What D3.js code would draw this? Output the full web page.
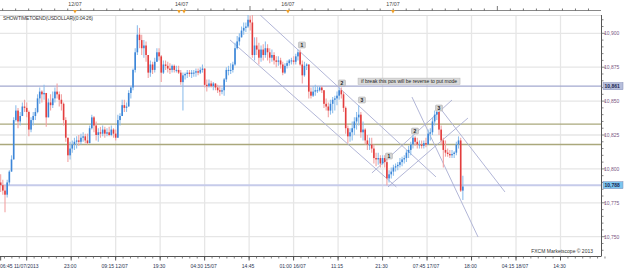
<!DOCTYPE html>
<html>
<head>
<meta charset="utf-8">
<script src="https://cdn.jsdelivr.net/npm/d3@7"></script>
<style>
body { margin: 0; background: #fff; }
text { font-family: Arial, "Liberation Sans", sans-serif; }
</style>
</head>
<body>
<script>
var w = 625,
    h = 272;

var plotL = 0, plotR = 601, plotT = 15, plotB = 256;

// 30 minute candles, first one sits on slot -24 (06:45 11/07)
var firstSlot = -24,
    slotStep = 2,
    firstOpen = 10790;

var highs = [
  10796, 10792, 10788, 10792, 10799, 10810, 10838, 10847, 10845, 10842,
  10849, 10851, 10849, 10843, 10838, 10842, 10845, 10855, 10860, 10858,
  10862, 10855, 10852, 10855, 10857, 10860, 10863, 10857, 10855, 10849,
  10838, 10823, 10820, 10821, 10823, 10824, 10825, 10826, 10827, 10826,
  10826, 10832, 10840, 10839, 10835, 10830, 10831, 10832, 10831, 10830,
  10831, 10832, 10830, 10829, 10840, 10841, 10851, 10851, 10849, 10858,
  10861, 10874, 10889, 10906, 10904, 10899, 10895, 10894, 10884, 10880,
  10879, 10882, 10889, 10889, 10884, 10880, 10880, 10879, 10878, 10877,
  10877, 10876, 10876, 10873, 10871, 10871, 10873, 10873, 10873, 10873,
  10874, 10874, 10875, 10877, 10874, 10866, 10866, 10865, 10864, 10863,
  10862, 10861, 10860, 10867, 10875, 10876, 10878, 10879, 10893, 10898,
  10900, 10905, 10908, 10908, 10914, 10913, 10914, 10897, 10897, 10893,
  10891, 10892, 10894, 10892, 10889, 10888, 10886, 10883, 10883, 10882,
  10879, 10878, 10880, 10881, 10882, 10883, 10885, 10888, 10888, 10880,
  10879, 10878, 10877, 10860, 10861, 10862, 10861, 10861, 10861, 10858,
  10852, 10849, 10851, 10853, 10854, 10857, 10860, 10860, 10857, 10846,
  10832, 10830, 10835, 10838, 10842, 10847, 10842, 10835, 10830, 10825,
  10823, 10823, 10818, 10812, 10812, 10810, 10810, 10810, 10808, 10799,
  10801, 10803, 10804, 10805, 10808, 10809, 10810, 10814, 10817, 10820,
  10825, 10824, 10823, 10821, 10821, 10821, 10823, 10829, 10830, 10838,
  10843, 10845, 10842, 10832, 10823, 10821, 10815, 10814, 10814, 10813,
  10820, 10824, 10823, 10795
];

var lows = [
  10783, 10781, 10768, 10779, 10788, 10798, 10807, 10835, 10830, 10832,
  10839, 10842, 10838, 10824, 10827, 10832, 10836, 10841, 10848, 10849,
  10851, 10831, 10838, 10843, 10845, 10849, 10852, 10846, 10843, 10832,
  10820, 10805, 10807, 10812, 10814, 10815, 10817, 10818, 10820, 10819,
  10818, 10819, 10829, 10827, 10821, 10820, 10823, 10824, 10823, 10824,
  10824, 10824, 10823, 10821, 10823, 10832, 10839, 10842, 10842, 10846,
  10852, 10858, 10871, 10884, 10889, 10884, 10882, 10879, 10867, 10868,
  10870, 10871, 10879, 10880, 10864, 10870, 10873, 10871, 10870, 10871,
  10871, 10871, 10870, 10862, 10843, 10866, 10867, 10868, 10867, 10868,
  10868, 10869, 10870, 10871, 10860, 10857, 10860, 10860, 10858, 10858,
  10856, 10854, 10855, 10854, 10864, 10869, 10870, 10871, 10876, 10888,
  10891, 10897, 10899, 10901, 10904, 10902, 10882, 10880, 10884, 10877,
  10879, 10880, 10882, 10880, 10878, 10879, 10877, 10875, 10876, 10874,
  10869, 10870, 10874, 10876, 10877, 10877, 10877, 10880, 10876, 10863,
  10868, 10873, 10852, 10852, 10853, 10854, 10856, 10857, 10856, 10845,
  10843, 10838, 10840, 10841, 10843, 10847, 10851, 10852, 10842, 10826,
  10819, 10820, 10821, 10825, 10829, 10832, 10823, 10821, 10818, 10814,
  10814, 10812, 10804, 10802, 10803, 10801, 10803, 10801, 10788, 10790,
  10793, 10795, 10798, 10799, 10801, 10802, 10804, 10805, 10808, 10810,
  10815, 10817, 10815, 10815, 10815, 10815, 10816, 10818, 10821, 10825,
  10832, 10836, 10825, 10818, 10801, 10809, 10809, 10808, 10808, 10808,
  10810, 10815, 10783, 10777
];

var closes = [
  10788, 10784, 10781, 10790, 10798, 10807, 10836, 10843, 10835, 10839,
  10846, 10845, 10842, 10829, 10836, 10839, 10842, 10852, 10857, 10855,
  10856, 10838, 10849, 10847, 10852, 10857, 10855, 10851, 10848, 10836,
  10823, 10810, 10815, 10818, 10820, 10821, 10820, 10823, 10824, 10821,
  10819, 10830, 10838, 10832, 10825, 10827, 10826, 10829, 10826, 10827,
  10825, 10829, 10826, 10823, 10836, 10839, 10847, 10845, 10846, 10856,
  10860, 10873, 10886, 10899, 10895, 10889, 10891, 10884, 10871, 10877,
  10873, 10879, 10886, 10883, 10871, 10877, 10876, 10874, 10873, 10876,
  10873, 10873, 10871, 10864, 10869, 10870, 10871, 10870, 10871, 10871,
  10872, 10871, 10873, 10874, 10862, 10861, 10863, 10861, 10863, 10860,
  10858, 10857, 10858, 10866, 10873, 10873, 10873, 10877, 10889, 10894,
  10897, 10902, 10904, 10905, 10910, 10908, 10884, 10891, 10888, 10882,
  10888, 10884, 10889, 10886, 10882, 10884, 10880, 10879, 10880, 10877,
  10871, 10876, 10878, 10880, 10880, 10879, 10883, 10886, 10877, 10869,
  10876, 10877, 10857, 10854, 10857, 10858, 10858, 10860, 10858, 10848,
  10846, 10843, 10848, 10851, 10852, 10854, 10858, 10855, 10845, 10830,
  10824, 10827, 10830, 10835, 10838, 10840, 10827, 10829, 10821, 10818,
  10818, 10815, 10808, 10807, 10808, 10804, 10808, 10805, 10793, 10796,
  10798, 10801, 10802, 10803, 10805, 10807, 10808, 10812, 10814, 10818,
  10823, 10820, 10818, 10818, 10817, 10819, 10818, 10826, 10827, 10835,
  10840, 10842, 10829, 10821, 10814, 10812, 10811, 10810, 10811, 10812,
  10818, 10821, 10784, 10787
];

// bottom time axis (slot = 15 min)
var timeTicks = [-24, 0, 41, 82, 123, 164, 205, 246, 287, 328, 369, 410, 451, 492];
var timeLabels = ['06:45 11/07/2013', '', '23:00', '09:15 12/07', '19:30', '04:30 15/07', '14:45',
                  '01:00 16/07', '11:15', '21:30', '07:45 17/07', '18:00', '04:15 18/07', '14:30'];

// top day markers
var daySlots = [44.5, 142.7, 240.8, 337.6];
var dayLabels = ['12/07', '14/07', '16/07', '17/07'];
var markerSlots = [44.5, 140.4, 145, 240.8, 337.6];
var topTickSlots = d3.range(-19, 27).map(function(k){ return 205.8 + k * 12; });

// price axis
var priceTicks = [10750, 10775, 10800, 10825, 10850, 10875, 10900];

// horizontal levels
var levelPrices = [10861, 10833, 10818, 10788];
var levelColors = ['#a3a9cf', '#aaa87c', '#aaa87c', '#c6cbea'];
var levelWidths = [1.2, 1.3, 1.3, 2];
var tagPrices = [10861, 10788];
var tagFills = ['#b7bedb', '#7cc6f0'];

// wave counts
var waveText = ['1', '2', '3', '1', '2', '3'];
var waveSlots = [253.7, 290.6, 309.0, 333.9, 357.9, 380.0];
var wavePrices = [10891.4, 10863.4, 10850.8, 10809.5, 10827.9, 10844.9];

// trend / channel lines [slot1, price1, slot2, price2]
var trendLines = [
  [215.2, 10913.5, 377.2, 10794.1],
  [187.4, 10895.1, 340.7, 10786.7],
  [318.2, 10797.0, 392.0, 10850.8],
  [333.0, 10786.7, 406.7, 10837.5],
  [355.1, 10853.0, 416.0, 10749.8],
  [380.9, 10844.9, 440.8, 10783.0]
];

var noteText = 'if break this pos will be reverse to put mode';
var noteSlot = 352.4, notePrice = 10864.6;

var x = d3.scaleLinear().domain([0, 492]).range([26.7, 560.5]);
var y = d3.scaleLinear().domain([10750, 10900]).range([236.7, 33.3]);

var svg = d3.select('body')
    .append('svg')
    .attr('width', w)
    .attr('height', h);

svg.append('defs').append('clipPath')
    .attr('id', 'plotclip')
    .append('rect')
    .attr('x', plotL).attr('y', plotT)
    .attr('width', plotR - plotL).attr('height', plotB - plotT);

// grid
svg.append('g').selectAll('line')
    .data(priceTicks)
    .enter().append('line')
    .attr('x1', plotL).attr('x2', plotR)
    .attr('y1', function(d){ return y(d); })
    .attr('y2', function(d){ return y(d); })
    .attr('stroke', '#e6e6e6')
    .attr('stroke-width', 1.3);

svg.append('g').selectAll('line')
    .data(timeTicks.slice(1))
    .enter().append('line')
    .attr('x1', function(d){ return x(d); })
    .attr('x2', function(d){ return x(d); })
    .attr('y1', plotT).attr('y2', plotB)
    .attr('stroke', '#e6e6e6')
    .attr('stroke-width', 1.3);

svg.append('line')
    .attr('x1', plotL).attr('x2', plotR)
    .attr('y1', plotT + 0.5).attr('y2', plotT + 0.5)
    .attr('stroke', '#dcdcdc');

var plot = svg.append('g').attr('clip-path', 'url(#plotclip)');

// levels
plot.selectAll('line.level')
    .data(levelPrices)
    .enter().append('line')
    .attr('class', 'level')
    .attr('x1', plotL).attr('x2', plotR)
    .attr('y1', function(d){ return y(d); })
    .attr('y2', function(d){ return y(d); })
    .attr('stroke', function(d, i){ return levelColors[i]; })
    .attr('stroke-width', function(d, i){ return levelWidths[i]; });

// channel lines
plot.selectAll('line.trend')
    .data(trendLines)
    .enter().append('line')
    .attr('class', 'trend')
    .attr('x1', function(d){ return x(d[0]); })
    .attr('y1', function(d){ return y(d[1]); })
    .attr('x2', function(d){ return x(d[2]); })
    .attr('y2', function(d){ return y(d[3]); })
    .attr('stroke', '#a9aed2')
    .attr('stroke-width', 0.9);

// candles
var candles = closes.map(function(c, i){
    var o = i == 0 ? firstOpen : closes[i - 1];
    return {slot: firstSlot + i * slotStep, o: o, c: c, hi: highs[i], lo: lows[i]};
});

var cg = plot.selectAll('g.candle')
    .data(candles)
    .enter().append('g')
    .attr('class', 'candle');

cg.append('line')
    .attr('x1', function(d){ return x(d.slot); })
    .attr('x2', function(d){ return x(d.slot); })
    .attr('y1', function(d){ return y(Math.max(d.hi, d.o, d.c)); })
    .attr('y2', function(d){ return y(Math.min(d.lo, d.o, d.c)); })
    .attr('stroke', function(d){ return d.c >= d.o ? '#8fbfec' : '#f2a3a3'; })
    .attr('stroke-width', 1.1);

cg.append('rect')
    .attr('x', function(d){ return x(d.slot) - 0.8; })
    .attr('width', 1.6)
    .attr('y', function(d){ return y(Math.max(d.o, d.c)); })
    .attr('height', function(d){ return Math.max(1, y(Math.min(d.o, d.c)) - y(Math.max(d.o, d.c))); })
    .attr('fill', function(d){ return d.c >= d.o ? '#3d86d8' : '#e33d3d'; });

// wave count boxes
var wg = svg.selectAll('g.wave')
    .data(waveText)
    .enter().append('g')
    .attr('class', 'wave')
    .attr('transform', function(d, i){ return 'translate(' + x(waveSlots[i]) + ',' + y(wavePrices[i]) + ')'; });

wg.append('rect')
    .attr('x', -3.5).attr('y', -3)
    .attr('width', 7).attr('height', 6)
    .attr('rx', 1)
    .attr('fill', '#d2d2d2')
    .attr('stroke', '#a8a8a8')
    .attr('stroke-width', 0.5);

wg.append('text')
    .attr('text-anchor', 'middle')
    .attr('y', 1.8)
    .attr('font-size', 5)
    .attr('font-weight', 'bold')
    .attr('fill', '#222')
    .text(function(d){ return d; });

// note
var ng = svg.append('g')
    .attr('transform', 'translate(' + x(noteSlot) + ',' + y(notePrice) + ')');
ng.append('rect')
    .attr('x', -51).attr('y', -3.2)
    .attr('width', 102).attr('height', 6.4)
    .attr('fill', '#dadada')
    .attr('stroke', '#b5b5b5')
    .attr('stroke-width', 0.5);
ng.append('text')
    .attr('text-anchor', 'middle')
    .attr('y', 1.8)
    .attr('font-size', 5)
    .attr('fill', '#222')
    .attr('textLength', 96)
    .text(noteText);

// title
svg.append('text')
    .attr('x', 3).attr('y', 20)
    .attr('font-size', 5)
    .attr('fill', '#333')
    .attr('textLength', 90)
    .text('SHOWTIMETOEND(USDOLLAR)(0:04:26)');

// right price axis
var ra = svg.append('g');
ra.append('line')
    .attr('x1', plotR + 0.5).attr('x2', plotR + 0.5)
    .attr('y1', plotT).attr('y2', plotB)
    .attr('stroke', '#555');

ra.selectAll('line.minor')
    .data(d3.range(10740, 10915, 5))
    .enter().append('line')
    .attr('class', 'minor')
    .attr('x1', plotR + 0.5)
    .attr('x2', function(d){ return plotR + (d % 25 == 0 ? 4.5 : 2.5); })
    .attr('y1', function(d){ return y(d); })
    .attr('y2', function(d){ return y(d); })
    .attr('stroke', '#666')
    .attr('stroke-width', 0.8);

ra.selectAll('text.price')
    .data(priceTicks)
    .enter().append('text')
    .attr('class', 'price')
    .attr('x', plotR + 3)
    .attr('y', function(d){ return y(d) + 1.8; })
    .attr('font-size', 5)
    .attr('fill', '#7a557f')
    .text(d3.format(','));

var tags = ra.selectAll('g.tag')
    .data(tagPrices)
    .enter().append('g')
    .attr('class', 'tag')
    .attr('transform', function(d){ return 'translate(' + (plotR + 2) + ',' + y(d) + ')'; });
tags.append('rect')
    .attr('x', 0).attr('y', -3.5)
    .attr('width', 20).attr('height', 7)
    .attr('fill', function(d, i){ return tagFills[i]; })
    .attr('stroke', '#7f88b3')
    .attr('stroke-width', 0.5);
tags.append('text')
    .attr('x', 1.5).attr('y', 1.8)
    .attr('font-size', 5)
    .attr('font-weight', 'bold')
    .attr('fill', '#1b2450')
    .text(d3.format(','));

// bottom time axis
var ba = svg.append('g');
ba.append('line')
    .attr('x1', plotL).attr('x2', plotR + 0.5)
    .attr('y1', plotB + 0.5).attr('y2', plotB + 0.5)
    .attr('stroke', '#555');

ba.selectAll('line.minor')
    .data(d3.range(-3, 6 * 12 + 7).map(function(k){ return k * 41 / 6; }))
    .enter().append('line')
    .attr('class', 'minor')
    .attr('x1', function(d){ return x(d); })
    .attr('x2', function(d){ return x(d); })
    .attr('y1', plotB + 0.5).attr('y2', plotB + 2.5)
    .attr('stroke', '#666')
    .attr('stroke-width', 0.8);

ba.selectAll('line.major')
    .data(timeTicks)
    .enter().append('line')
    .attr('class', 'major')
    .attr('x1', function(d){ return x(d); })
    .attr('x2', function(d){ return x(d); })
    .attr('y1', plotB + 0.5).attr('y2', plotB + 4.5)
    .attr('stroke', '#444')
    .attr('stroke-width', 0.9);

ba.selectAll('text')
    .data(timeTicks)
    .enter().append('text')
    .attr('x', function(d, i){ return i == 0 ? 0 : x(d) - 1; })
    .attr('y', 268)
    .attr('text-anchor', function(d, i){ return i == 0 ? 'start' : 'middle'; })
    .attr('font-size', 5)
    .attr('fill', '#2b3552')
    .text(function(d, i){ return timeLabels[i]; });

// top day axis
var ta = svg.append('g');
ta.append('line')
    .attr('x1', plotL).attr('x2', plotR)
    .attr('y1', 10.5).attr('y2', 10.5)
    .attr('stroke', '#888');

ta.selectAll('line.tick')
    .data(topTickSlots)
    .enter().append('line')
    .attr('class', 'tick')
    .attr('x1', function(d){ return x(d); })
    .attr('x2', function(d){ return x(d); })
    .attr('y1', function(d, i){ return (i == 19 || i == 38) ? 6 : 8.5; })
    .attr('y2', 10.5)
    .attr('stroke', '#555')
    .attr('stroke-width', 0.8);

ta.selectAll('text')
    .data(dayLabels)
    .enter().append('text')
    .attr('x', function(d, i){ return x(daySlots[i]); })
    .attr('y', 6)
    .attr('text-anchor', 'middle')
    .attr('font-size', 5.3)
    .attr('fill', '#444')
    .text(function(d){ return d; });

ta.selectAll('path')
    .data(markerSlots)
    .enter().append('path')
    .attr('d', function(d){
        var cx = x(d);
        return 'M' + (cx - 2) + ',10 L' + (cx + 2) + ',10 L' + cx + ',13.5 Z';
    })
    .attr('fill', '#f0a028');

// footer
svg.append('text')
    .attr('x', 593).attr('y', 252.5)
    .attr('text-anchor', 'end')
    .attr('font-size', 5)
    .attr('fill', '#333')
    .text('FXCM Marketscope \u00a9 2013');
</script>
</body>
</html>
